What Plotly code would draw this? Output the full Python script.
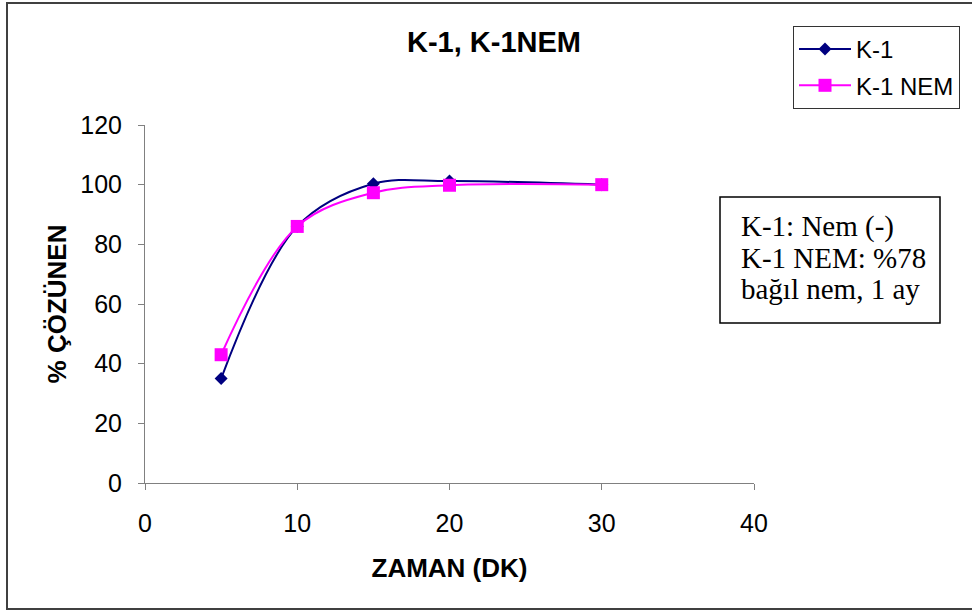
import plotly.graph_objects as go

# Dissolution data: time (min) vs % dissolved
zaman = [5, 10, 15, 20, 30]
k1 = [35, 86, 100.3, 101.2, 100]
k1_nem = [43, 86, 97.3, 99.8, 100]

x_ticks = [0, 10, 20, 30, 40]
y_ticks = [0, 20, 40, 60, 80, 100, 120]

note_lines = ["K-1: Nem (-)", "K-1 NEM: %78", "bağıl nem, 1 ay"]

W, H = 972, 611
L, R, T, B = 145, 218, 125, 128
pw, ph = W - L - R, H - T - B

SANS = "Liberation Sans, Arial"
SERIF = "Liberation Serif, Times New Roman"


def px_x(p):
    return (p - L) / pw


def px_y(p):
    return (H - B - p) / ph


fig = go.Figure()
fig.add_trace(go.Scatter(
    x=zaman, y=k1, name="K-1", mode="lines+markers", legendgroup="a",
    line=dict(color="#000080", width=2, shape="spline", smoothing=1),
    marker=dict(symbol="diamond", size=10, color="#000080"),
))
fig.add_trace(go.Scatter(
    x=zaman, y=k1_nem, name="K-1 NEM", mode="lines+markers", legendgroup="b",
    line=dict(color="#FF00FF", width=2, shape="spline", smoothing=1),
    marker=dict(symbol="square", size=13, color="#FF00FF"),
))

axis_common = dict(
    showgrid=False, zeroline=False, showline=True, linecolor="#808080",
    linewidth=1, ticks="outside", ticklen=6, tickcolor="#808080",
    tickfont=dict(family=SANS, size=25, color="black"),
)

fig.update_layout(
    width=W, height=H,
    margin=dict(l=L, r=R, t=T, b=B),
    paper_bgcolor="white", plot_bgcolor="white",
    title=dict(
        text="K-1, K-1NEM", x=494 / W, xanchor="center",
        y=1 - 42 / H, yanchor="middle", xref="container", yref="container",
        font=dict(family=SANS, size=29, color="black", weight="bold"),
    ),
    xaxis=dict(
        range=[0, 40], tickvals=x_ticks, ticklabelstandoff=12,
        title=dict(text="ZAMAN (DK)", standoff=22,
                   font=dict(family=SANS, size=26, color="black", weight="bold")),
        **axis_common,
    ),
    yaxis=dict(
        range=[0, 120], tickvals=y_ticks, ticklabelstandoff=11,
        title=dict(text="% ÇÖZÜNEN", standoff=6,
                   font=dict(family=SANS, size=26, color="black", weight="bold")),
        **axis_common,
    ),
    legend=dict(
        x=px_x(793), y=px_y(26), xanchor="left", yanchor="top",
        bgcolor="white", bordercolor="#333333", borderwidth=1,
        font=dict(family=SANS, size=24, color="black"),
        tracegroupgap=2, itemwidth=52, traceorder="grouped",
    ),
    showlegend=True,
)

# Note box: frame plus one text line per annotation
fig.add_shape(
    type="rect", xref="paper", yref="paper",
    x0=px_x(720), x1=px_x(940), y0=px_y(323), y1=px_y(197),
    line=dict(color="black", width=1.5), fillcolor="white",
)
for line_text, yc in zip(note_lines, [226, 258, 289]):
    fig.add_annotation(
        text=line_text, xref="paper", yref="paper",
        x=px_x(739), y=px_y(yc), xanchor="left", yanchor="middle",
        showarrow=False,
        font=dict(family=SERIF, size=29, color="black"),
    )

# Outer chart frame
fig.add_shape(
    type="rect", xref="paper", yref="paper",
    x0=px_x(7), x1=px_x(980), y0=px_y(609), y1=px_y(3),
    line=dict(color="#404040", width=2), layer="below",
)

fig.write_html("out.html")
